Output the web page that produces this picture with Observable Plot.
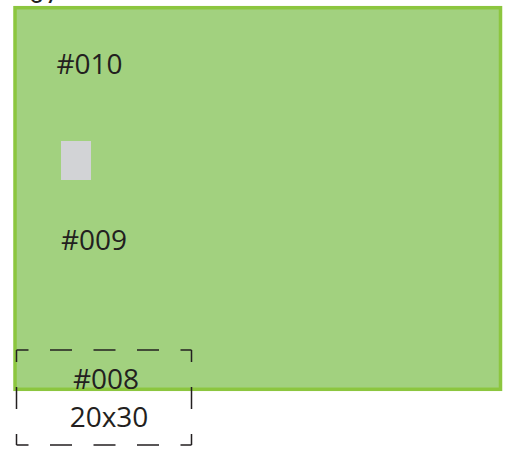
<!DOCTYPE html>
<html>
<head>
<meta charset="utf-8">
<script src="https://cdn.jsdelivr.net/npm/d3@7"></script>
<script src="https://cdn.jsdelivr.net/npm/@observablehq/plot@0.6"></script>
<style>
  html, body { margin: 0; padding: 0; background: #fff; }
  #chart svg { display: block; }
</style>
</head>
<body>
<div id="chart"></div>
<script>
// Panels (in picture units)
const panelNames = ["board", "swatch"];
const panelX1 = [15, 61];
const panelX2 = [500.5, 91];
const panelY1 = [7.7, 141];
const panelY2 = [389.3, 180];

// Dashed marker box edges
const boxX1 = 16, boxX2 = 191, boxY1 = 349.5, boxY2 = 444.5;

// Labels
const labelText = ["07", "#010", "#009", "#008", "20x30"];
const labelX = [28, 89, 93.5, 105.5, 108.5];
const labelY = [-6, 65, 241, 380, 418];
const labelAnchor = ["start", "middle", "middle", "middle", "middle"];

const panels = panelNames.map((n, i) => ({name: n, x1: panelX1[i], x2: panelX2[i], y1: panelY1[i], y2: panelY2[i]}));
const labels = labelText.map((t, i) => ({t, x: labelX[i], y: labelY[i], a: labelAnchor[i]}));
const hEdges = [
  {x1: boxX1, x2: boxX2, y: boxY1},
  {x1: boxX1, x2: boxX2, y: boxY2}
];
const vEdges = [
  {x: boxX1, y1: boxY1, y2: boxY2},
  {x: boxX2, y1: boxY1, y2: boxY2}
];

const chart = Plot.plot({
  width: 508,
  height: 450,
  margin: 0,
  x: {domain: [0, 508], range: [0, 508], axis: null},
  y: {domain: [0, 450], range: [0, 450], axis: null},
  style: {fontFamily: "'Open Sans', sans-serif", background: "#fff"},
  marks: [
    Plot.rect(panels.slice(0, 1), {x1: "x1", x2: "x2", y1: "y1", y2: "y2", fill: "#a2d17f", stroke: "#8cc63f", strokeWidth: 3.5}),
    Plot.rect(panels.slice(1), {x1: "x1", x2: "x2", y1: "y1", y2: "y2", fill: "#d2d3d6"}),
    Plot.text(labels.filter(d => d.a === "start"), {x: "x", y: "y", text: "t", textAnchor: "start", fontSize: 28, fill: "#231f20"}),
    Plot.text(labels.filter(d => d.a === "middle"), {x: "x", y: "y", text: "t", textAnchor: "middle", fontSize: 28, fill: "#231f20"}),
    Plot.link(hEdges, {x1: "x1", x2: "x2", y1: "y", y2: "y", stroke: "#231f20", strokeWidth: 1.5, strokeDasharray: "22 21.5", strokeDashoffset: 10}),
    Plot.link(vEdges, {x1: "x", x2: "x", y1: "y1", y2: "y2", stroke: "#231f20", strokeWidth: 1.5, strokeDasharray: "22 25", strokeDashoffset: 10})
  ]
});
document.getElementById("chart").appendChild(chart);
</script>
</body>
</html>
